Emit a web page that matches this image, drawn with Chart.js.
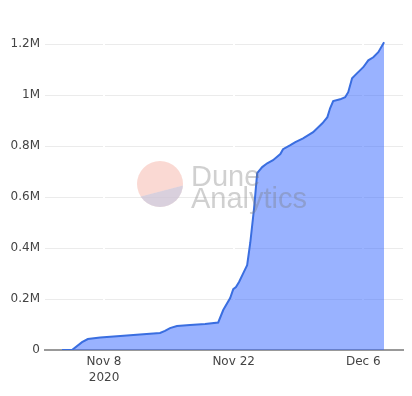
<!DOCTYPE html>
<html>
<head>
<meta charset="utf-8">
<script src="https://cdn.jsdelivr.net/npm/chart.js@4/dist/chart.umd.min.js"></script>
<style>
  html, body { margin: 0; padding: 0; background: #fff; }
  #wrap { width: 412px; height: 396px; }
</style>
</head>
<body>
<div id="wrap"><canvas id="chart"></canvas></div>
<script>
// cumulative total (UTC hours)
const times = [
  "2020-11-03T11:00Z", "2020-11-04T13:00Z", "2020-11-05T15:00Z", "2020-11-06T06:00Z",
  "2020-11-07T14:00Z", "2020-11-09T18:00Z", "2020-11-11T21:00Z", "2020-11-14T01:00Z",
  "2020-11-14T14:00Z", "2020-11-15T03:00Z", "2020-11-15T21:00Z", "2020-11-17T07:00Z",
  "2020-11-18T22:00Z", "2020-11-20T08:00Z", "2020-11-20T21:00Z", "2020-11-21T15:00Z",
  "2020-11-21T23:00Z", "2020-11-22T06:00Z", "2020-11-22T14:00Z", "2020-11-23T01:00Z",
  "2020-11-23T11:00Z", "2020-11-23T19:00Z", "2020-11-24T05:00Z", "2020-11-24T13:00Z",
  "2020-11-25T02:00Z", "2020-11-25T15:00Z", "2020-11-26T06:00Z", "2020-11-27T01:00Z",
  "2020-11-27T08:00Z", "2020-11-28T03:00Z", "2020-11-28T16:00Z", "2020-11-29T12:00Z",
  "2020-11-30T14:00Z", "2020-12-01T14:00Z", "2020-12-02T03:00Z", "2020-12-02T10:00Z",
  "2020-12-02T18:00Z", "2020-12-03T12:00Z", "2020-12-04T01:00Z", "2020-12-04T09:00Z",
  "2020-12-04T19:00Z", "2020-12-05T03:00Z", "2020-12-06T00:00Z", "2020-12-06T13:00Z",
  "2020-12-07T02:00Z", "2020-12-07T15:00Z", "2020-12-08T06:00Z"
];
const totals = [
  0, 0, 31000, 43000,
  49000, 55000, 61000, 67000,
  75000, 86000, 94000, 98000,
  102000, 108000, 157000, 204000,
  239000, 247000, 267000, 302000,
  333000, 420000, 557000, 694000,
  718000, 733000, 745000, 769000,
  788000, 804000, 816000, 831000,
  855000, 890000, 914000, 949000,
  977000, 984000, 992000, 1012000,
  1067000, 1079000, 1110000, 1137000,
  1149000, 1169000, 1208000
];

const yTicks = [0, 200000, 400000, 600000, 800000, 1000000, 1200000];
const xTickDates = ["2020-11-08T00:00Z", "2020-11-22T00:00Z", "2020-12-06T00:00Z"];
const xTickLabels = [["Nov 8", "2020"], "Nov 22", "Dec 6"];
const xMin = Date.parse("2020-11-01T15:00Z");
const xMax = Date.parse("2020-12-10T07:00Z");

const fmtM = (v) => v === 0 ? "0" : (v / 1e6) + "M";

/* ================= WATERMARK ================= */
const watermark = {
  id: "watermark",
  afterDatasetsDraw(chart) {
    const ctx = chart.ctx;
    ctx.save();
    // logo circle
    const cx = 160, cy = 184, r = 23;
    ctx.beginPath();
    ctx.arc(cx, cy, r, 0, Math.PI * 2);
    ctx.fillStyle = "rgba(240,130,110,0.3)";
    ctx.fill();
    ctx.save();
    ctx.beginPath();
    ctx.arc(cx, cy, r, 0, Math.PI * 2);
    ctx.clip();
    ctx.beginPath();
    ctx.moveTo(cx - r - 2, cy + 14);
    ctx.lineTo(cx + r + 2, cy + 1);
    ctx.lineTo(cx + r + 2, cy + r + 2);
    ctx.lineTo(cx - r - 2, cy + r + 2);
    ctx.closePath();
    ctx.fillStyle = "rgba(255,255,255,0.6)";
    ctx.fill();
    ctx.fillStyle = "rgba(150,150,190,0.35)";
    ctx.fill();
    ctx.restore();
    // text
    ctx.fillStyle = "rgba(120,120,120,0.35)";
    ctx.font = "29px 'Liberation Sans', Arial, sans-serif";
    ctx.textBaseline = "alphabetic";
    ctx.fillText("Dune", 191, 186);
    ctx.fillText("Analytics", 191, 208);
    ctx.restore();
  }
};

/* ================= CHART ================= */
new Chart(document.getElementById("chart"), {
  type: "line",
  data: {
    datasets: [{
      data: times.map((t, i) => ({ x: Date.parse(t), y: totals[i] })),
      borderColor: "#3a6ee0",
      borderWidth: 2,
      backgroundColor: "rgba(51,102,255,0.5)",
      fill: "origin",
      pointRadius: 0,
      tension: 0
    }]
  },
  options: {
    responsive: true,
    maintainAspectRatio: false,
    animation: false,
    layout: { padding: { top: 29, right: 9, bottom: 0, left: 0 } },
    plugins: {
      legend: { display: false },
      tooltip: { enabled: false }
    },
    scales: {
      x: {
        type: "linear",
        min: xMin,
        max: xMax,
        afterBuildTicks: (scale) => {
          scale.ticks = xTickDates.map(d => ({ value: Date.parse(d) }));
        },
        afterFit: (scale) => { scale.height = 46; },
        grid: { color: "#ffffff", lineWidth: 2, drawTicks: false, z: 0 },
        border: { color: "#999999", width: 2 },
        ticks: {
          padding: 4,
          maxRotation: 0,
          autoSkip: false,
          color: "#444",
          font: { family: "'DejaVu Sans', Verdana, sans-serif", size: 12, lineHeight: 1.35 },
          callback: (value, index) => xTickLabels[index]
        }
      },
      y: {
        min: 0,
        max: 1260000,
        afterBuildTicks: (scale) => {
          scale.ticks = yTicks.map(v => ({ value: v }));
        },
        afterFit: (scale) => { scale.width = 45; },
        grid: { color: "#ebebeb", lineWidth: 1, drawTicks: false },
        border: { display: false },
        ticks: {
          padding: 5,
          color: "#444",
          font: { family: "'DejaVu Sans', Verdana, sans-serif", size: 12 },
          callback: (value) => fmtM(value)
        }
      }
    }
  },
  plugins: [watermark]
});
</script>
</body>
</html>
